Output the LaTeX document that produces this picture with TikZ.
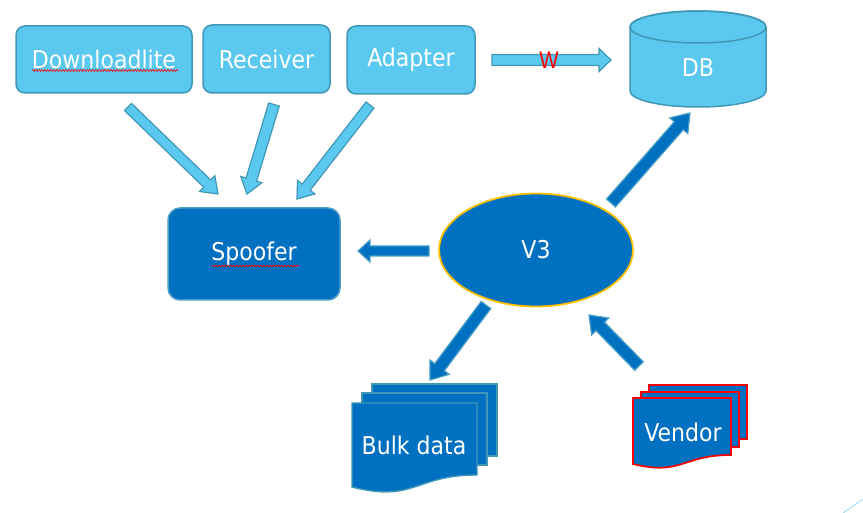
\documentclass[tikz,border=0pt]{standalone}
\usepackage{fontspec}
\setmainfont{DejaVu Sans Condensed}
\newfontfamily\wfont{Liberation Sans}
\usetikzlibrary{calc,shapes.geometric,decorations.pathmorphing}
\definecolor{lightfill}{HTML}{5BC9EF}
\definecolor{lightedge}{HTML}{4097B6}
\definecolor{darkfill}{HTML}{0070C0}
\definecolor{darkedge}{HTML}{4AA0C6}
\definecolor{ringyellow}{HTML}{FFC000}
\definecolor{faintline}{HTML}{9FD8F0}
\newcommand{\blockarrow}[6][]{%
  \coordinate (baB) at ($(#3)!#6!(#2)$);
  \draw[#1] ($(#2)!#4!90:(#3)$) -- ($(baB)!#4!-90:(#2)$) -- ($(baB)!#5!-90:(#2)$)
    -- (#3) -- ($(baB)!#5!90:(#2)$) -- ($(baB)!#4!90:(#2)$) -- ($(#2)!#4!-90:(#3)$) -- cycle;}
\tikzset{
  x=1pt,y=1pt,
  bigtext/.style={font=\fontsize{24.5}{28}\selectfont},
  lightbox/.style={draw=lightedge,fill=lightfill,line width=1.5pt,rounded corners=9pt,text=white,bigtext,inner sep=0pt},
  darkbox/.style={draw=darkedge,fill=darkfill,line width=1.5pt,rounded corners=12pt,text=white,bigtext,inner sep=0pt},
  lightarrow/.style={draw=lightedge,fill=lightfill,line width=1.2pt,line join=miter},
  darkarrow/.style={draw=darkedge,fill=darkfill,line width=1.2pt,line join=miter},
  docbulk/.style={draw=lightedge,fill=darkfill,line width=1.4pt},
  docvendor/.style={draw=red,fill=darkfill,line width=1.7pt},
  labeltext/.style={text=white,bigtext,inner sep=0pt},
  squiggle/.style={draw=red,line width=0.6pt,decorate,decoration={snake,amplitude=1pt,segment length=3pt}}
}
\begin{document}
\begin{tikzpicture}
\useasboundingbox (0,0) rectangle (863,-513);
% top boxes
\node[lightbox,minimum width=176,minimum height=67] (dl) at (104,-59.5) {Downloadlite};
\node[lightbox,minimum width=127,minimum height=68] (rc) at (266.5,-59) {Receiver};
\node[lightbox,minimum width=128,minimum height=68] (ad) at (411,-60) {Adapter};
\draw[squiggle] (32,-70.5) -- (178,-70.5);
% spoofer
\node[darkbox,minimum width=172,minimum height=92] (sp) at (254,-254) {Spoofer};
\draw[squiggle] (212,-266) -- (299,-266);
% V3
\node[ellipse,draw=ringyellow,fill=darkfill,line width=1.8pt,minimum width=194,minimum height=113,text=white,bigtext] (v3) at (536,-250) {V3};
% DB cylinder
\draw[draw=lightedge,fill=lightfill,line width=1.5pt] (630,-27) -- (630,-91)
  arc[start angle=180,end angle=360,x radius=68,y radius=16] -- (766,-27)
  arc[start angle=0,end angle=180,x radius=68,y radius=16] -- cycle;
\draw[draw=lightedge,line width=1.5pt] (698,-27) ellipse[x radius=68,y radius=16];
\node[labeltext] (db) at (698,-68) {DB};
% Bulk data multi-document
\draw[docbulk] (372,-384) rectangle (497,-456);
\draw[docbulk] (362,-393) rectangle (487,-465);
\draw[docbulk] (352,-403) -- (477,-403) -- (477,-475) .. controls (414.5,-475) and (414.5,-503) .. (352,-487) -- cycle;
\node[labeltext] (bulk) at (414,-445) {Bulk data};
% Vendor multi-document
\draw[docvendor] (649,-385) rectangle (747,-439);
\draw[docvendor] (641,-392) rectangle (739,-447);
\draw[docvendor] (633,-398) -- (731,-398) -- (731,-455) .. controls (682,-455) and (682,-476) .. (633,-464) -- cycle;
\node[labeltext] (vendor) at (683,-432) {Vendor};
% arrow end points
\coordinate (wS) at (492,-60);   \coordinate (wE) at (611,-60);
\coordinate (a1S) at (128,-107); \coordinate (a1E) at (218,-194);
\coordinate (a2S) at (274,-104.5); \coordinate (a2E) at (247,-194);
\coordinate (a3S) at (370,-105); \coordinate (a3E) at (297,-199);
\coordinate (spS) at (429,-251); \coordinate (spE) at (358,-251);
\coordinate (dbS) at (611,-203); \coordinate (dbE) at (690,-113);
\coordinate (bkS) at (486,-305); \coordinate (bkE) at (430,-380);
\coordinate (vnS) at (639,-366); \coordinate (vnE) at (589,-315);
% arrows
\blockarrow[lightarrow]{wS}{wE}{5.5pt}{11.5pt}{12pt}
\node[text=red,font=\wfont\fontsize{24}{26}\selectfont,inner sep=0pt,xscale=0.85] (wlab) at (549,-60) {W};
\blockarrow[lightarrow]{a1S}{a1E}{5pt}{11pt}{15pt}
\blockarrow[lightarrow]{a2S}{a2E}{5.5pt}{11pt}{15pt}
\blockarrow[lightarrow]{a3S}{a3E}{5pt}{11pt}{15pt}
\blockarrow[darkarrow]{spS}{spE}{5pt}{11pt}{12pt}
\blockarrow[darkarrow]{dbS}{dbE}{6pt}{12pt}{17pt}
\blockarrow[darkarrow]{bkS}{bkE}{6pt}{12pt}{16pt}
\blockarrow[darkarrow]{vnS}{vnE}{6pt}{12pt}{16pt}
% faint corner line
\draw[faintline,line width=0.8pt] (843,-513) -- (863,-499);
\end{tikzpicture}
\end{document}
